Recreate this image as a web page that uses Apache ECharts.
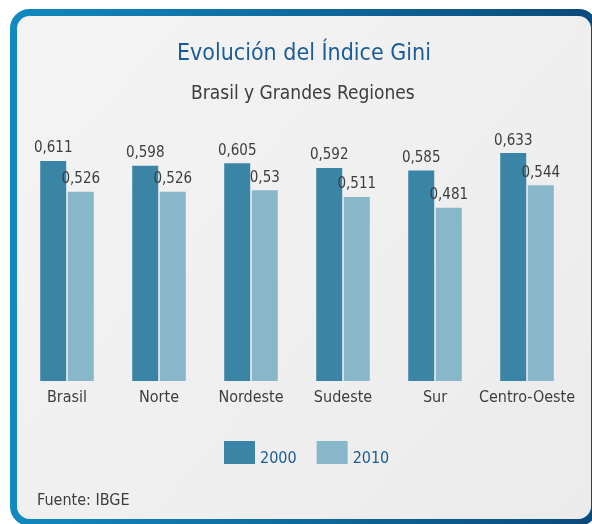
<!DOCTYPE html>
<html lang="es">
<head>
	<meta charset="UTF-8">
	<title>Evolución del Índice Gini</title>
	<script src="https://cdn.jsdelivr.net/npm/echarts@6/dist/echarts.min.js"></script>
	<style>
		body { margin: 0; background: #ffffff; }
		#main { width: 592px; height: 524px; }
	</style>
</head>
<body>
<div id="main"></div>
<script>
	// datos del grafico
	var regiones = ['Brasil', 'Norte', 'Nordeste', 'Sudeste', 'Sur', 'Centro-Oeste'];
	var gini2000 = [0.611, 0.598, 0.605, 0.592, 0.585, 0.633];
	var gini2010 = [0.526, 0.526, 0.53, 0.511, 0.481, 0.544];
	var anios = ['2000', '2010'];

	var fuente = "'Liberation Sans Narrow', 'DejaVu Sans Condensed', 'Open Sans', sans-serif";
	var gris = '#3d3d3d';
	var azul = '#1a5c97';

	function coma(p) {
		return String(p.value).replace('.', ',');
	}

	var myChart = echarts.init(document.getElementById('main'));
	var option = {
		animation: false,
		textStyle: { fontFamily: fuente },
		// tarjeta con borde azul
		graphic: [{
			type: 'rect',
			z: -10,
			silent: true,
			shape: { x: 13.5, y: 12.5, width: 581, height: 510, r: 16 },
			style: {
				fill: new echarts.graphic.LinearGradient(0, 0, 1, 1, [
					{ offset: 0, color: '#f4f4f5' },
					{ offset: 1, color: '#ebebec' }
				]),
				stroke: new echarts.graphic.LinearGradient(0, 0, 1, 0, [
					{ offset: 0, color: '#1289bf' },
					{ offset: 1, color: '#0a4a7b' }
				]),
				lineWidth: 7
			}
		}],
		title: [{
			text: 'Evolución del Índice Gini',
			left: 172,
			top: 38,
			textStyle: { color: azul, fontSize: 23, fontWeight: 'normal', fontFamily: fuente }
		}, {
			text: 'Brasil y Grandes Regiones',
			left: 186,
			top: 80,
			textStyle: { color: gris, fontSize: 19, fontWeight: 'normal', fontFamily: fuente }
		}, {
			text: 'Fuente: IBGE',
			left: 32,
			top: 488,
			textStyle: { color: gris, fontSize: 16, fontWeight: 'normal', fontFamily: fuente }
		}],
		legend: {
			data: anios,
			left: 219,
			top: 436,
			itemWidth: 31,
			itemHeight: 23,
			itemGap: 20,
			icon: 'rect',
			formatter: '{t|{name}}',
			textStyle: {
				color: azul, fontSize: 16, fontFamily: fuente,
				rich: { t: { color: azul, fontSize: 16, fontFamily: fuente, padding: [12, 0, 0, 0] } }
			}
		},
		grid: { left: 21, right: 19, top: 129, bottom: 143 },
		xAxis: {
			type: 'category',
			data: regiones,
			axisLine: { show: false },
			axisTick: { show: false },
			axisLabel: { color: gris, fontSize: 16, margin: 9, interval: 0, fontFamily: fuente }
		},
		yAxis: {
			type: 'value',
			min: 0,
			max: 0.7,
			show: false
		},
		series: [{
			name: anios[0],
			type: 'bar',
			data: gini2000,
			barWidth: 26,
			barGap: '6%',
			itemStyle: { color: '#3a85a6' },
			label: { show: true, position: 'top', distance: 5, color: gris, fontSize: 15, fontFamily: fuente, formatter: coma }
		}, {
			name: anios[1],
			type: 'bar',
			data: gini2010,
			barWidth: 26,
			barGap: '6%',
			itemStyle: { color: '#87b7c9' },
			label: { show: true, position: 'top', distance: 5, color: gris, fontSize: 15, fontFamily: fuente, formatter: coma }
		}]
	};
	myChart.setOption(option);
</script>
</body>
</html>
